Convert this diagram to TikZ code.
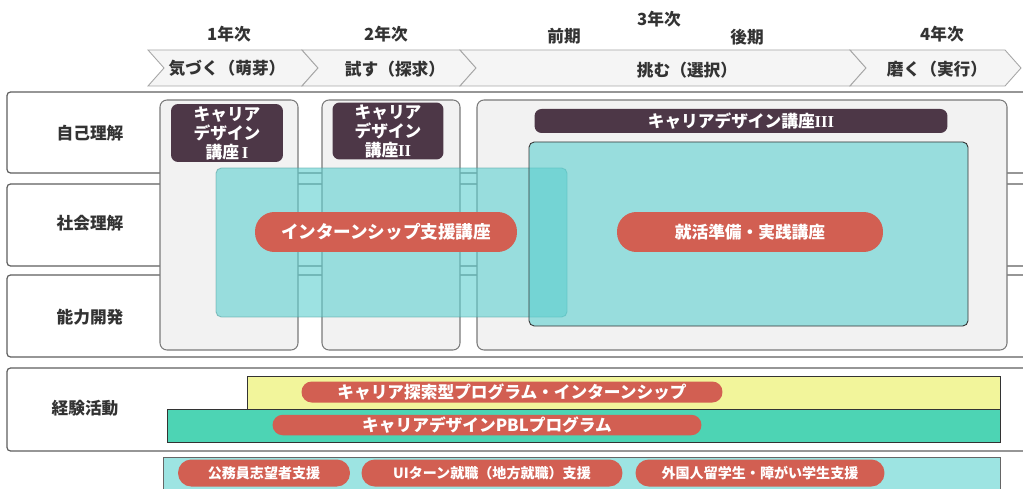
\documentclass[tikz,border=0pt]{standalone}
\usepackage{fontspec}
\setmainfont{Noto Sans CJK JP}
\newfontfamily\romannum{Liberation Serif}
\usetikzlibrary{fit}

\definecolor{rowline}{HTML}{5E5E5E}
\definecolor{panelgray}{HTML}{F2F2F2}
\definecolor{panelline}{HTML}{7A7A7A}
\definecolor{plum}{HTML}{4D3747}
\definecolor{teal}{HTML}{5CCFCF}
\definecolor{pillred}{HTML}{D25F52}
\definecolor{baryellow}{HTML}{F2F59B}
\definecolor{bargreen}{HTML}{4DD4B4}
\definecolor{supportcyan}{HTML}{9DE4E2}
\definecolor{labeltext}{HTML}{333333}

\begin{document}
\begin{tikzpicture}[
            x = 0.02cm, y = -0.02cm,
            rowbox/.style = {
                draw = rowline, fill = white,
                line width = 0.7pt,
                rounded corners = 2pt,
                inner sep = 0pt,
            },
            rowlabel/.style = {
                text = labeltext,
                font = \fontsize{9.5pt}{11pt}\selectfont\bfseries,
            },
            yearlabel/.style = {
                text = labeltext,
                font = \fontsize{9.5pt}{11pt}\selectfont\bfseries,
            },
            phase/.style = {
                draw = gray!70, fill = gray!8,
                line width = 0.5pt,
            },
            colpanel/.style = {
                draw = panelline, fill = panelgray,
                line width = 0.6pt,
                rounded corners = 4pt,
                inner sep = 0pt,
            },
            course/.style = {
                fill = plum, text = white,
                rounded corners = 4pt,
                align = center,
                inner sep = 0pt,
                font = \fontsize{9.5pt}{10.8pt}\selectfont\bfseries,
            },
            zone/.style = {
                fill = teal, fill opacity = 0.6,
                draw = teal!70!black, draw opacity = 0.5,
                line width = 0.5pt,
                rounded corners = 3pt,
                inner sep = 0pt,
            },
            pill/.style = {
                fill = pillred, text = white,
                rounded corners = 11pt,
                inner sep = 0pt,
                font = \fontsize{10pt}{11pt}\selectfont\bfseries,
            },
            smallpill/.style = {
                pill,
                rounded corners = 7.5pt,
                minimum height = 0.54cm,
                font = \fontsize{8pt}{9pt}\selectfont\bfseries,
            },
            barpill/.style = {
                pill,
                rounded corners = 5.8pt,
                font = \fontsize{9.5pt}{10pt}\selectfont\bfseries,
            },
            bar/.style = {
                draw = black!80,
                line width = 0.5pt,
                inner sep = 0pt,
            },
        ]
        \useasboundingbox (0,0) rectangle (1023,489);

        % Jaar
        \node[yearlabel] (y1) at (229,34) {1年次};
        \node[yearlabel] (y2) at (386,34) {2年次};
        \node[yearlabel] (y3) at (659,19) {3年次};
        \node[yearlabel] (y3a) at (564,36) {前期};
        \node[yearlabel] (y3b) at (747,37) {後期};
        \node[yearlabel] (y4) at (942,34) {4年次};

        % Fasen
        \foreach \a/\b in {148/302, 302/460, 460/850, 850/1005}
            \draw[phase] (\a,50) -- (\b,50) -- (\b+16,68) -- (\b,86)
                -- (\a,86) -- (\a+16,68) -- cycle;
        \node[yearlabel] (f1) at (227,68) {気づく（萌芽）};
        \node[yearlabel] (f2) at (395,69) {試す（探求）};
        \node[yearlabel] (f3) at (687,70) {挑む（選択）};
        \node[yearlabel] (f4) at (937,69) {磨く（実行）};

        % Rijen
        \node[rowbox, fit = {(7,92) (1040,173)}] (r1) {};
        \node[rowbox, fit = {(7,184) (1040,266)}] (r2) {};
        \node[rowbox, fit = {(7,275) (1040,357)}] (r3) {};
        \node[rowbox, fit = {(7,368) (1040,451)}] (r4) {};
        \node[rowlabel] (l1) at (90,133) {自己理解};
        \node[rowlabel] (l2) at (90,223) {社会理解};
        \node[rowlabel] (l3) at (90,317) {能力開発};
        \node[rowlabel] (l4) at (85,408) {経験活動};

        % Kolommen
        \node[colpanel, fit = {(160,100) (298,350)}] (c1) {};
        \node[colpanel, fit = {(322,100) (460,350)}] (c2) {};
        \node[colpanel, fit = {(477,100) (1007,350)}] (c3) {};

        % Cursussen
        \node[course, minimum width = 2.24cm, minimum height = 1.16cm] (cd1)
            at (227,133) {キャリア\\デザイン\\講座\,{\romannum I}};
        \node[course, minimum width = 2.22cm, minimum height = 1.14cm] (cd2)
            at (388,131) {キャリア\\デザイン\\講座{\romannum II}};
        \node[course, minimum width = 8.26cm, minimum height = 0.48cm] (cd3)
            at (741,121) {キャリアデザイン講座{\romannum III}};

        \node[zone, fit = {(216,168) (567,317)}] (z1) {};
        \node[zone, draw = black!80, draw opacity = 1,
            fit = {(529,142) (968,326)}] (z2) {};

        \node[pill, minimum width = 5.24cm, minimum height = 0.8cm] (p1)
            at (386,232) {インターンシップ支援講座};
        \node[pill, minimum width = 5.32cm, minimum height = 0.8cm,
            font = \fontsize{9.5pt}{11pt}\selectfont\bfseries] (p2)
            at (750,232) {就活準備・実践講座};

        % Ervaring
        \node[bar, fill = baryellow, fit = {(247,376) (1000,409)}] (b1) {};
        \node[bar, fill = bargreen, fit = {(167,409) (1000,442)}] (b2) {};
        \node[barpill, minimum width = 8.42cm, minimum height = 0.42cm] (e1)
            at (512,392) {キャリア探索型プログラム・インターンシップ};
        \node[barpill, minimum width = 8.58cm, minimum height = 0.41cm] (e2)
            at (487,425) {キャリアデザインPBLプログラム};

        % Ondersteuning
        \node[bar, draw = black!60, fill = supportcyan,
            fit = {(163,457) (1000,500)}] (s0) {};
        \node[smallpill, minimum width = 3.44cm] (s1)
            at (264,473) {公務員志望者支援};
        \node[smallpill, minimum width = 5.22cm] (s2)
            at (492,473) {UIターン就職（地方就職）支援};
        \node[smallpill, minimum width = 4.98cm] (s3)
            at (760,473) {外国人留学生・障がい学生支援};

    \end{tikzpicture}
\end{document}
